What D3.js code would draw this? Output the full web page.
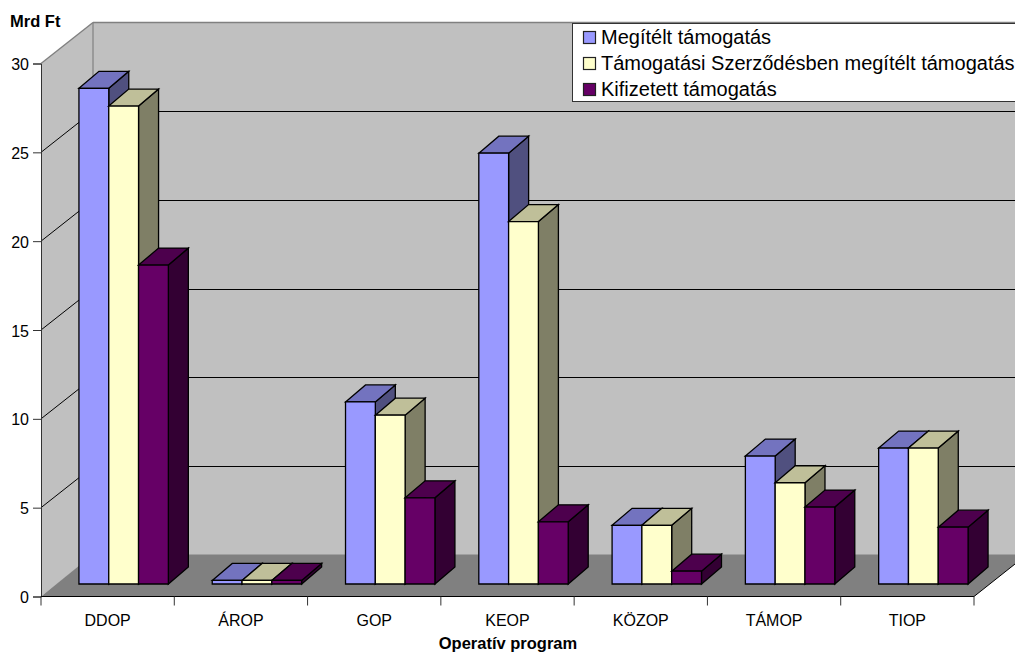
<!DOCTYPE html>
<html><head><meta charset="utf-8">
<script src="https://d3js.org/d3.v7.min.js"></script>
<style>html,body{margin:0;padding:0;background:#fff}svg{display:block}text{font-family:"Liberation Sans",Arial,sans-serif;fill:#000}</style>
</head><body><svg id="c" width="1015" height="652"></svg>
<script>
const categories=["DDOP","ÁROP","GOP","KEOP","KÖZOP","TÁMOP","TIOP"];
const seriesNames=["Megítélt támogatás","Támogatási Szerződésben megítélt támogatás","Kifizetett támogatás"];
const megitelt=[27.9,0.2,10.25,24.25,3.3,7.2,7.65];
const szerzodes=[26.9,0.2,9.5,20.4,3.3,5.7,7.65];
const kifizetett=[17.95,0.2,4.85,3.5,0.72,4.33,3.2];
const seriesValues=[megitelt,szerzodes,kifizetett];
const yTicks=[0,5,10,15,20,25,30];
const yTitle="Mrd Ft", xTitle="Operatív program";
const front=["#9999ff","#ffffcc","#660066"],top3=["#7373bf","#bfbf99","#4d004d"],side=["#50507f","#7f7f66","#330033"];

const svg=d3.select("#c");
const L=41,R=974,Y0=596.5,Y30=63.5,DX=52,DY=-41;
const y=d3.scaleLinear().domain([0,30]).range([Y0,Y30]);
const x=d3.scaleBand().domain(categories).range([L,R]);
const inner=d3.scaleBand().domain(d3.range(3)).range([0,89.4]);
const poly=(pts,f,s,w)=>svg.append("polygon").attr("points",pts.map(p=>p.join(",")).join(" ")).attr("fill",f).attr("stroke",s||"none").attr("stroke-width",w||1);
const line=(a,b,c,d,s,w)=>svg.append("line").attr("x1",a).attr("y1",b).attr("x2",c).attr("y2",d).attr("stroke",s).attr("stroke-width",w||1);

// walls and floor
poly([[L,Y0],[L+DX,Y0+DY],[L+DX,Y30+DY],[L,Y30]],"#c0c0c0");
poly([[L+DX,Y0+DY],[1015,Y0+DY],[1015,Y30+DY],[L+DX,Y30+DY]],"#c0c0c0");
poly([[L,Y0],[L+DX,Y0+DY-1],[1015,Y0+DY-1],[1015,Y0-32.5],[R,Y0]],"#808080");
// gridlines
yTicks.filter(v=>v>0&&v<30).forEach(v=>{
  line(L,y(v),L+DX,y(v)+DY,"#000");
  line(L+DX,Math.floor(y(v)+DY)+0.5,1015,Math.floor(y(v)+DY)+0.5,"#000");
});
line(L,Y30,L+DX,Y30+DY,"#808080",1.4);
line(L+DX,Y30+DY,1015,Y30+DY,"#808080",1.6);
line(L+DX,Y30+DY,L+DX,Y0+DY,"#808080",1.2);

// axes
const ay=d3.axisLeft(y).tickValues(yTicks).tickSize(8).tickPadding(4);
const gy=svg.append("g").attr("transform",`translate(${L},0)`).call(ay);
gy.select(".domain").attr("stroke","#333").attr("stroke-width",1);
gy.selectAll("line").attr("stroke","#333");
gy.selectAll("text").attr("font-size",16).attr("font-family","Liberation Sans").attr("dy","0.38em");
const ax=d3.axisBottom(x).tickSize(0).tickPadding(18);
const gx=svg.append("g").attr("transform",`translate(0,${Y0})`).call(ax);
gx.select(".domain").remove();
gx.selectAll("text").attr("font-size",16).attr("font-family","Liberation Sans");
line(L,Y0,R,Y0,"#000",1);
line(R,Y0,R+41,Y0-32.5,"#000",1);
categories.map((c,i)=>i).concat(7).forEach(i=>{const X=i<7?x(categories[i]):R;line(X,Y0,X,Y0+9,"#333");});

// bars
const ox=16,oy=-12.5,bx=20,by=-17,gap=21.95;
const vy=v=>y(v)+oy;
categories.forEach((c,i)=>{
  [0,1,2].forEach(s=>{
    const v=seriesValues[s][i];
    const x0=x(c)+ox+gap+inner(s), w=inner.bandwidth(), yt=vy(v), yb=vy(0);
    poly([[x0+w,yt],[x0+w+bx,yt+by],[x0+w+bx,yb+by],[x0+w,yb]],side[s],"#000",1.3);
    poly([[x0,yt],[x0+bx,yt+by],[x0+w+bx,yt+by],[x0+w,yt]],top3[s],"#000",1.3);
    poly([[x0,yt],[x0+w,yt],[x0+w,yb],[x0,yb]],front[s],"#000",1.3);
  });
});

// legend
svg.append("rect").attr("x",572.5).attr("y",23.5).attr("width",450).attr("height",78).attr("fill","#fff").attr("stroke","#333");
seriesNames.forEach((n,i)=>{
  const ly=37.5+i*26;
  svg.append("rect").attr("x",583.5).attr("y",ly-6).attr("width",12).attr("height",12).attr("fill",front[i]).attr("stroke","#222").attr("stroke-width",1.2);
  svg.append("text").attr("x",601).attr("y",ly+6.7).attr("font-size",20).text(n);
});
// titles
svg.append("text").attr("x",10).attr("y",27).attr("font-size",16.5).attr("font-weight","bold").text(yTitle);
svg.append("text").attr("x",508).attr("y",649).attr("text-anchor","middle").attr("font-size",16.5).attr("font-weight","bold").text(xTitle);
</script></body></html>
